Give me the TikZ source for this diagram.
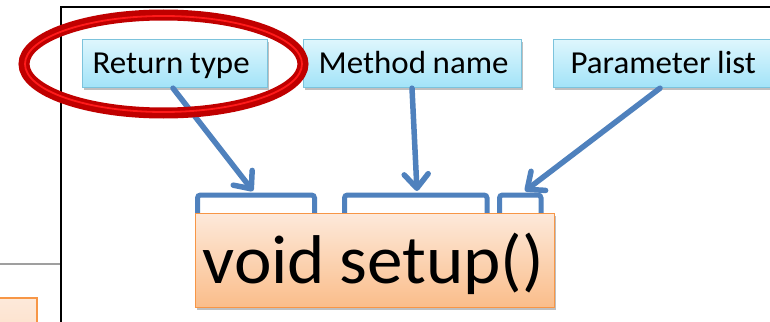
\documentclass[tikz,border=0pt]{standalone}
\usepackage{fontspec}
\setmainfont{Carlito}[FakeStretch=1.03]
\usetikzlibrary{arrows.meta,shapes.geometric,shadows}
\definecolor{lbltop}{HTML}{DEF6FD}
\definecolor{lblbot}{HTML}{A2E3F8}
\definecolor{lblborder}{HTML}{7CC3DC}
\definecolor{ortop}{HTML}{FDE9DA}
\definecolor{orbot}{HTML}{FABD8A}
\definecolor{orborder}{HTML}{F79646}
\definecolor{arrblue}{HTML}{4F81BD}
\definecolor{darkred}{HTML}{C00000}
\definecolor{brightred}{HTML}{FF1A1A}
\newcommand\wsp{\kern0.21em\relax}
\tikzset{
  lbl/.style={draw=lblborder, line width=1.2pt, top color=lbltop, bottom color=lblbot,
    anchor=north west, minimum height=48pt, text height=20pt, text depth=0pt,
    align=left, font=\fontsize{32}{36}\selectfont,
    drop shadow={shadow xshift=1pt, shadow yshift=-2.5pt, fill=black, opacity=0.25}},
  codebox/.style={draw=orborder, line width=1.2pt, top color=ortop, bottom color=orbot,
    anchor=north west, minimum height=94pt, text height=45pt, text depth=0pt,
    align=left, font=\fontsize{69}{72}\selectfont,
    drop shadow={shadow xshift=1pt, shadow yshift=-2.5pt, fill=black, opacity=0.25}},
  arr/.style={draw=arrblue, line width=5.5pt, line cap=round,
    -{Straight Barb[length=14pt,width=24pt,line cap=round,round]}},
  brack/.style={draw=arrblue, line width=5pt, rounded corners=3pt},
}
\begin{document}
\begin{tikzpicture}[x=1pt,y=-1pt]
\useasboundingbox (0,0) rectangle (770,321);
\clip (0,0) rectangle (770,321);
\fill[white] (0,0) rectangle (770,321);
% left slide remnants
\draw[gray!75, line width=2pt] (0,264) -- (61,264);
\node[draw=orborder, line width=1.5pt, top color=ortop, bottom color=ortop!80!orbot,
  anchor=north west, minimum width=38pt, minimum height=40pt, inner sep=0pt] (ob) at (-2,297) {};
% frame
\draw[black, line width=2pt] (61,325) -- (61,7.5) -- (775,7.5);
% brackets
\draw[brack] (197.5,220) -- (197.5,195) -- (314.5,195) -- (314.5,220);
\draw[brack] (344.5,220) -- (344.5,195) -- (487,195) -- (487,220);
\draw[brack] (499.5,220) -- (499.5,195) -- (541,195) -- (541,220);
\coordinate (b1) at (253,191);
\coordinate (b2) at (417,191);
\coordinate (b3) at (525,191);
% code box
\node[codebox, minimum width=359pt, inner xsep=7pt, text width=345pt] (code) at (195,213) {void\wsp setup()};
% labels
\node[lbl, minimum width=185pt, inner xsep=10pt, text width=165pt] (rt) at (82,39) {Return\wsp type};
\node[lbl, minimum width=218pt, inner xsep=15pt, text width=188pt] (mn) at (303,39) {Method\wsp name};
\node[lbl, minimum width=225pt, inner xsep=17pt, text width=191pt] (pl) at (553,39) {Parameter\wsp list};
% arrows
\draw[arr] ([xshift=91pt]rt.south west) -- (b1);
\draw[arr] ([xshift=109pt]mn.south west) -- (b2);
\draw[arr] ([xshift=107pt]pl.south west) -- (b3);
% highlight ellipse
\node[ellipse, draw=darkred, line width=11pt, minimum width=279pt, minimum height=98pt, inner sep=0pt] (hl) at (163.5,64) {};
\node[ellipse, draw=brightred, line width=1.8pt, minimum width=277pt, minimum height=96pt, inner sep=0pt] (hl2) at (163.5,64) {};
\end{tikzpicture}
\end{document}
